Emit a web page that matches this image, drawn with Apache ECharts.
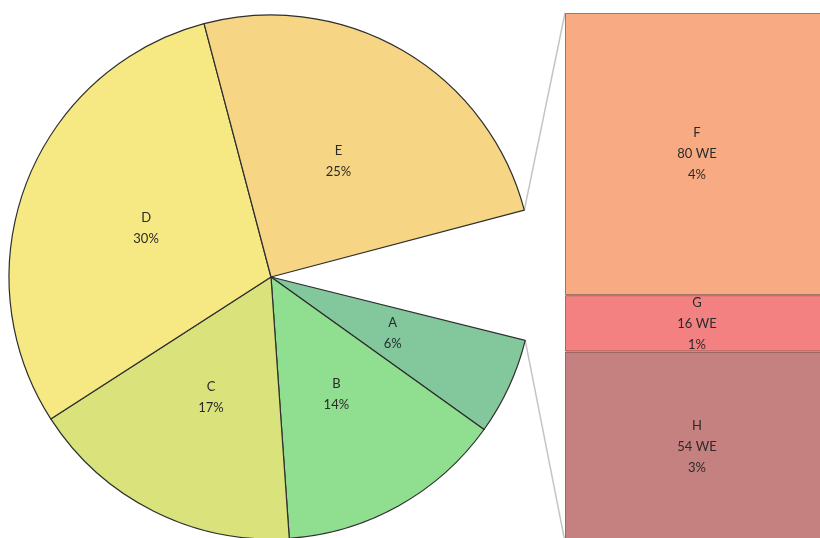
<!DOCTYPE html>
<html>
<head>
<meta charset="utf-8">
<script src="https://cdn.jsdelivr.net/npm/echarts@6/dist/echarts.min.js"></script>
<style>html,body{margin:0;padding:0;background:#fff}#c{width:820px;height:538px}</style>
</head>
<body>
<div id="c"></div>
<script>
// Pie slices (percent)
var pieNames = ['A', 'B', 'C', 'D', 'E'];
var pieValues = [6, 14, 17, 30, 25];
var pieColors = ['#83c79c', '#90de8f', '#d9e27b', '#f6e882', '#f6d585'];
// Broken-out "other" part shown as stacked bar (bottom to top)
var barNames = ['H', 'G', 'F'];
var barWE = [54, 16, 80];
var barPct = [3, 1, 4];
var barColors = ['#c58080', '#f48181', '#f8ab82'];
var otherPct = 8;

var FONT = 'Lato, "DejaVu Sans", sans-serif';
var chart = echarts.init(document.getElementById('c'), null, {renderer: 'canvas'});

var pieCenter = [271, 277];
var pieRadius = 262;
var startAngle = -14;

var pieData = pieNames.map(function (n, i) {
  return {name: n, value: pieValues[i], itemStyle: {color: pieColors[i]}};
});
pieData.push({
  name: 'other', value: otherPct,
  itemStyle: {color: 'rgba(0,0,0,0)', borderWidth: 0},
  label: {show: false}, labelLine: {show: false},
  emphasis: {disabled: true}
});

var barSeries = barNames.map(function (n, i) {
  return {
    name: n, type: 'bar', stack: 'o', barWidth: '100%',
    data: [barWE[i]],
    itemStyle: {color: barColors[i], borderColor: 'rgba(70,40,40,0.55)', borderWidth: 1},
    label: {
      show: true, position: 'inside', color: '#2b2b2b', fontFamily: FONT, fontSize: 13, lineHeight: 21,
      formatter: n + '\n' + barWE[i] + ' WE\n' + barPct[i] + '%'
    },
    silent: true
  };
});

var option = {
  animation: false,
  backgroundColor: '#ffffff',
  grid: {left: 565, top: 13, width: 264, height: 529, containLabel: false, outerBoundsMode: 'none'},
  xAxis: {type: 'category', data: ['other'], show: false},
  yAxis: {type: 'value', min: 0, max: 150, show: false},
  series: [{
    type: 'pie',
    center: pieCenter,
    radius: pieRadius,
    startAngle: startAngle,
    clockwise: true,
    silent: true,
    itemStyle: {borderColor: '#2e2e2e', borderWidth: 1.2},
    label: {
      show: true, position: 'inside', color: '#2b2b2b', fontFamily: FONT, fontSize: 13, lineHeight: 21,
      formatter: function (p) { return p.name + '\n' + p.value + '%'; }
    },
    labelLine: {show: false},
    data: pieData
  }].concat(barSeries)
};
chart.setOption(option);

// Connector lines from the gap edges of the pie to the bar corners
var total = pieValues.reduce(function (a, b) { return a + b; }, 0) + otherPct;
var sumMain = pieValues.reduce(function (a, b) { return a + b; }, 0);
var aStart = -startAngle * Math.PI / 180; // screen angle (clockwise) where first slice begins
var eEnd = aStart + sumMain / total * 2 * Math.PI;
function pt(a) { return [pieCenter[0] + pieRadius * Math.cos(a), pieCenter[1] + pieRadius * Math.sin(a)]; }
var pTop = pt(eEnd), pBot = pt(aStart);
var barTotal = barWE.reduce(function (a, b) { return a + b; }, 0);
var yTop = chart.convertToPixel({yAxisIndex: 0}, barTotal);
var yBot = chart.convertToPixel({yAxisIndex: 0}, 0);
var xLeft = option.grid.left;
chart.setOption({
  graphic: [
    {type: 'line', shape: {x1: pTop[0], y1: pTop[1], x2: xLeft, y2: yTop}, style: {stroke: '#c4c4c4', lineWidth: 1.5}, z: 1},
    {type: 'line', shape: {x1: pBot[0], y1: pBot[1], x2: xLeft, y2: yBot}, style: {stroke: '#c4c4c4', lineWidth: 1.5}, z: 1}
  ]
});
</script>
</body>
</html>
